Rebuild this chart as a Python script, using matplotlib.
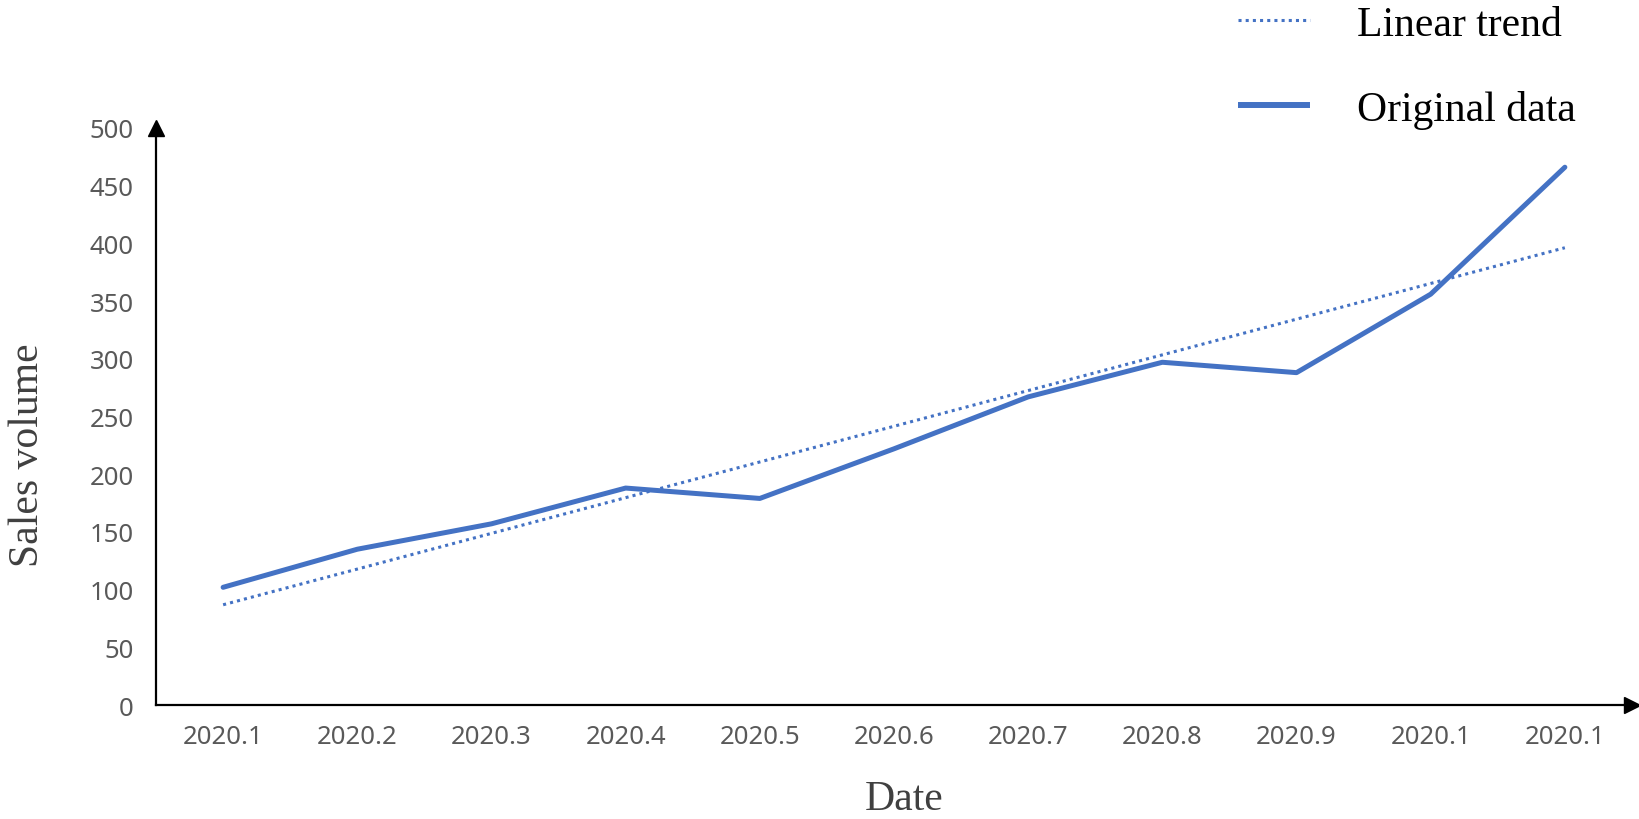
import matplotlib

matplotlib.use("Agg")
import matplotlib.pyplot as plt
from matplotlib.lines import Line2D
import numpy as np

# monthly sales
dates = ["2020.1", "2020.2", "2020.3", "2020.4", "2020.5", "2020.6",
         "2020.7", "2020.8", "2020.9", "2020.1", "2020.1"]
sales = [102, 135, 157, 188, 179, 222, 267, 297, 288, 356, 466]
y_ticks = [0, 50, 100, 150, 200, 250, 300, 350, 400, 450, 500]

BLUE = "#4472C4"
GREY = "#595959"
SERIF = ["Liberation Serif", "DejaVu Serif"]
DOTS = (0, (1, 1.35))

x = np.arange(len(dates))
slope, intercept = np.polyfit(x, sales, 1)  # linear trendline, as in Excel
trend = slope * x + intercept

fig = plt.figure(figsize=(16.39, 8.2), dpi=100)
ax = fig.add_axes([0.0952, 0.139, 0.9957 - 0.0952, 0.8427 - 0.139])

ax.plot(x, trend, color=BLUE, linewidth=2.2, linestyle=DOTS, dash_capstyle="butt")
ax.plot(x, sales, color=BLUE, linewidth=3.6,
        solid_capstyle="round", solid_joinstyle="round")

ax.set_xlim(-0.5, len(dates) - 0.5)
ax.set_ylim(0, 500)
ax.set_xticks(x)
ax.set_xticklabels(dates)
ax.set_yticks(y_ticks)
ax.tick_params(length=0, labelsize=18.5, labelcolor=GREY)
ax.tick_params(axis="x", pad=14)
ax.tick_params(axis="y", pad=16)
for lbl in ax.get_xticklabels() + ax.get_yticklabels():
    lbl.set_family(["Noto Sans", "DejaVu Sans"])

for side in ("top", "right"):
    ax.spines[side].set_visible(False)
for side in ("left", "bottom"):
    ax.spines[side].set_linewidth(1.6)
    ax.spines[side].set_color("black")

# arrow heads on the axes
ax.plot(1, 0, ">", color="black", markersize=11, transform=ax.transAxes, clip_on=False)
ax.plot(0, 1, "^", color="black", markersize=11, transform=ax.transAxes, clip_on=False)

fig.text(28 / 1639, 1 - 455 / 820, "Sales volume", rotation=90, ha="center",
         va="center", fontsize=30, family=SERIF, color="#404040")
fig.text(904 / 1639, 1 - 800 / 820, "Date", ha="center", va="center",
         fontsize=30, family=SERIF, color="#404040")

# legend handles: square-ended like the original Excel legend
handles = [
    Line2D([], [], color=BLUE, linewidth=2.2, linestyle=DOTS, dash_capstyle="butt"),
    Line2D([], [], color=BLUE, linewidth=4.3, solid_capstyle="butt"),
]
fig.legend(handles, ["Linear trend", "Original data"],
           loc="upper left", bbox_to_anchor=(1238 / 1639, 0.992), frameon=False,
           borderpad=0, borderaxespad=0, handlelength=1.73, handletextpad=1.13,
           labelspacing=1.1, prop={"family": SERIF, "size": 30})

fig.savefig("out.png", dpi=100)
